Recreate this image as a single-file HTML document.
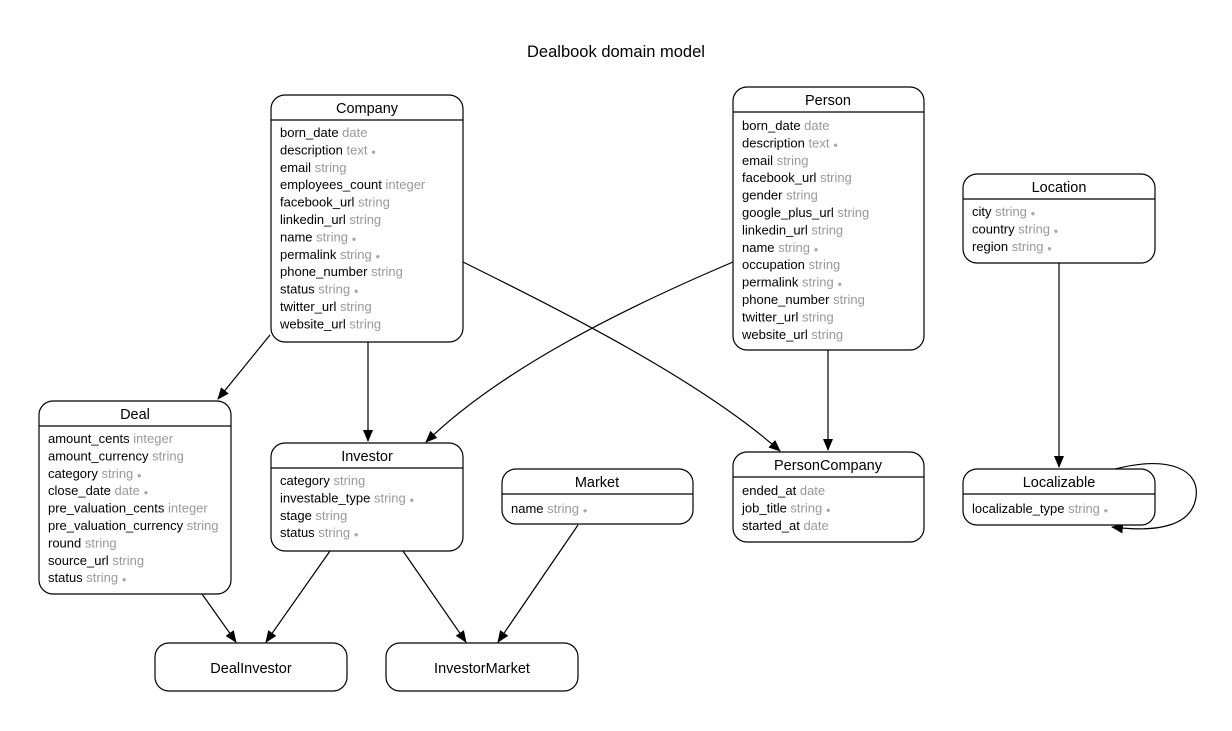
<!DOCTYPE html>
<html><head><meta charset="utf-8"><style>
html,body{margin:0;padding:0;background:#fff;}
svg{display:block;font-family:"Liberation Sans",Arial,sans-serif;}
.b{fill:#fff;stroke:#000;stroke-width:1.2;}
.l{stroke:#000;stroke-width:1.2;fill:none;}
.t{font-size:14.5px;text-anchor:middle;}
.r{font-size:13px;fill:#000;}
.g{fill:#999;}
.d{fill:#aaa;font-size:8px;}
.e{stroke:#000;stroke-width:1.2;fill:none;marker-end:url(#a);}
</style></head><body>
<svg width="1232" height="731" viewBox="0 0 1232 731">
<defs><marker id="a" markerWidth="12" markerHeight="10" refX="11" refY="5" orient="auto" markerUnits="userSpaceOnUse"><path d="M0,0 L12,5 L0,10 z" fill="#000"/></marker></defs>
<text x="616" y="57" font-size="16.5" text-anchor="middle">Dealbook domain model</text>

<path class="e" d="M270,335 L218,399"/>
<path class="e" d="M368,342 L368,441"/>
<path class="e" d="M463,262 C560,310 700,380 780,451"/>
<path class="e" d="M733,262 C620,310 500,370 426,442"/>
<path class="e" d="M828,350 L828,450"/>
<path class="e" d="M1059,263 L1059,467"/>
<path class="e" d="M1115,469 C1170,455 1200,470 1196,497 C1192,525 1160,533 1112,527"/>
<path class="e" d="M202,594 L236,642"/>
<path class="e" d="M330,551 L266,642"/>
<path class="e" d="M403,551 L466,642"/>
<path class="e" d="M578,525 L498,642"/>

<rect class="b" x="271" y="95" width="192" height="247" rx="14"/>
<line class="l" x1="271" y1="120" x2="463" y2="120"/>
<text class="t" x="367" y="113">Company</text>
<g class="r">
<text x="280" y="137">born_date <tspan class="g">date</tspan></text>
<text x="280" y="154.4">description <tspan class="g">text</tspan> <tspan class="d">●</tspan></text>
<text x="280" y="171.8">email <tspan class="g">string</tspan></text>
<text x="280" y="189.2">employees_count <tspan class="g">integer</tspan></text>
<text x="280" y="206.6">facebook_url <tspan class="g">string</tspan></text>
<text x="280" y="224">linkedin_url <tspan class="g">string</tspan></text>
<text x="280" y="241.4">name <tspan class="g">string</tspan> <tspan class="d">●</tspan></text>
<text x="280" y="258.8">permalink <tspan class="g">string</tspan> <tspan class="d">●</tspan></text>
<text x="280" y="276.2">phone_number <tspan class="g">string</tspan></text>
<text x="280" y="293.6">status <tspan class="g">string</tspan> <tspan class="d">●</tspan></text>
<text x="280" y="311">twitter_url <tspan class="g">string</tspan></text>
<text x="280" y="328.4">website_url <tspan class="g">string</tspan></text>
</g>

<rect class="b" x="733" y="87" width="191" height="263" rx="14"/>
<line class="l" x1="733" y1="112" x2="924" y2="112"/>
<text class="t" x="828" y="105">Person</text>
<g class="r">
<text x="742" y="130">born_date <tspan class="g">date</tspan></text>
<text x="742" y="147.4">description <tspan class="g">text</tspan> <tspan class="d">●</tspan></text>
<text x="742" y="164.8">email <tspan class="g">string</tspan></text>
<text x="742" y="182.2">facebook_url <tspan class="g">string</tspan></text>
<text x="742" y="199.6">gender <tspan class="g">string</tspan></text>
<text x="742" y="217">google_plus_url <tspan class="g">string</tspan></text>
<text x="742" y="234.4">linkedin_url <tspan class="g">string</tspan></text>
<text x="742" y="251.8">name <tspan class="g">string</tspan> <tspan class="d">●</tspan></text>
<text x="742" y="269.2">occupation <tspan class="g">string</tspan></text>
<text x="742" y="286.6">permalink <tspan class="g">string</tspan> <tspan class="d">●</tspan></text>
<text x="742" y="304">phone_number <tspan class="g">string</tspan></text>
<text x="742" y="321.4">twitter_url <tspan class="g">string</tspan></text>
<text x="742" y="338.8">website_url <tspan class="g">string</tspan></text>
</g>

<rect class="b" x="963" y="174" width="192" height="89" rx="14"/>
<line class="l" x1="963" y1="199" x2="1155" y2="199"/>
<text class="t" x="1059" y="192">Location</text>
<g class="r">
<text x="972" y="216">city <tspan class="g">string</tspan> <tspan class="d">●</tspan></text>
<text x="972" y="233.4">country <tspan class="g">string</tspan> <tspan class="d">●</tspan></text>
<text x="972" y="250.8">region <tspan class="g">string</tspan> <tspan class="d">●</tspan></text>
</g>

<rect class="b" x="39" y="401" width="192" height="193" rx="14"/>
<line class="l" x1="39" y1="426" x2="231" y2="426"/>
<text class="t" x="135" y="419">Deal</text>
<g class="r">
<text x="48" y="443">amount_cents <tspan class="g">integer</tspan></text>
<text x="48" y="460.4">amount_currency <tspan class="g">string</tspan></text>
<text x="48" y="477.8">category <tspan class="g">string</tspan> <tspan class="d">●</tspan></text>
<text x="48" y="495.2">close_date <tspan class="g">date</tspan> <tspan class="d">●</tspan></text>
<text x="48" y="512.6">pre_valuation_cents <tspan class="g">integer</tspan></text>
<text x="48" y="530">pre_valuation_currency <tspan class="g">string</tspan></text>
<text x="48" y="547.4">round <tspan class="g">string</tspan></text>
<text x="48" y="564.8">source_url <tspan class="g">string</tspan></text>
<text x="48" y="582.2">status <tspan class="g">string</tspan> <tspan class="d">●</tspan></text>
</g>

<rect class="b" x="271" y="443" width="192" height="108" rx="14"/>
<line class="l" x1="271" y1="468" x2="463" y2="468"/>
<text class="t" x="367" y="461">Investor</text>
<g class="r">
<text x="280" y="485">category <tspan class="g">string</tspan></text>
<text x="280" y="502.4">investable_type <tspan class="g">string</tspan> <tspan class="d">●</tspan></text>
<text x="280" y="519.8">stage <tspan class="g">string</tspan></text>
<text x="280" y="537.2">status <tspan class="g">string</tspan> <tspan class="d">●</tspan></text>
</g>

<rect class="b" x="502" y="469" width="191" height="55" rx="14"/>
<line class="l" x1="502" y1="494" x2="693" y2="494"/>
<text class="t" x="597" y="487">Market</text>
<text class="r" x="511" y="513">name <tspan class="g">string</tspan> <tspan class="d">●</tspan></text>

<rect class="b" x="733" y="452" width="191" height="90" rx="14"/>
<line class="l" x1="733" y1="477" x2="924" y2="477"/>
<text class="t" x="828" y="470">PersonCompany</text>
<g class="r">
<text x="742" y="495">ended_at <tspan class="g">date</tspan></text>
<text x="742" y="512.4">job_title <tspan class="g">string</tspan> <tspan class="d">●</tspan></text>
<text x="742" y="529.8">started_at <tspan class="g">date</tspan></text>
</g>

<rect class="b" x="963" y="469" width="192" height="56" rx="14"/>
<line class="l" x1="963" y1="494" x2="1155" y2="494"/>
<text class="t" x="1059" y="487">Localizable</text>
<text class="r" x="972" y="513">localizable_type <tspan class="g">string</tspan> <tspan class="d">●</tspan></text>

<rect class="b" x="155" y="643" width="192" height="48" rx="14"/>
<text class="t" x="251" y="673">DealInvestor</text>
<rect class="b" x="386" y="643" width="192" height="48" rx="14"/>
<text class="t" x="482" y="673">InvestorMarket</text>
</svg>
</body></html>
